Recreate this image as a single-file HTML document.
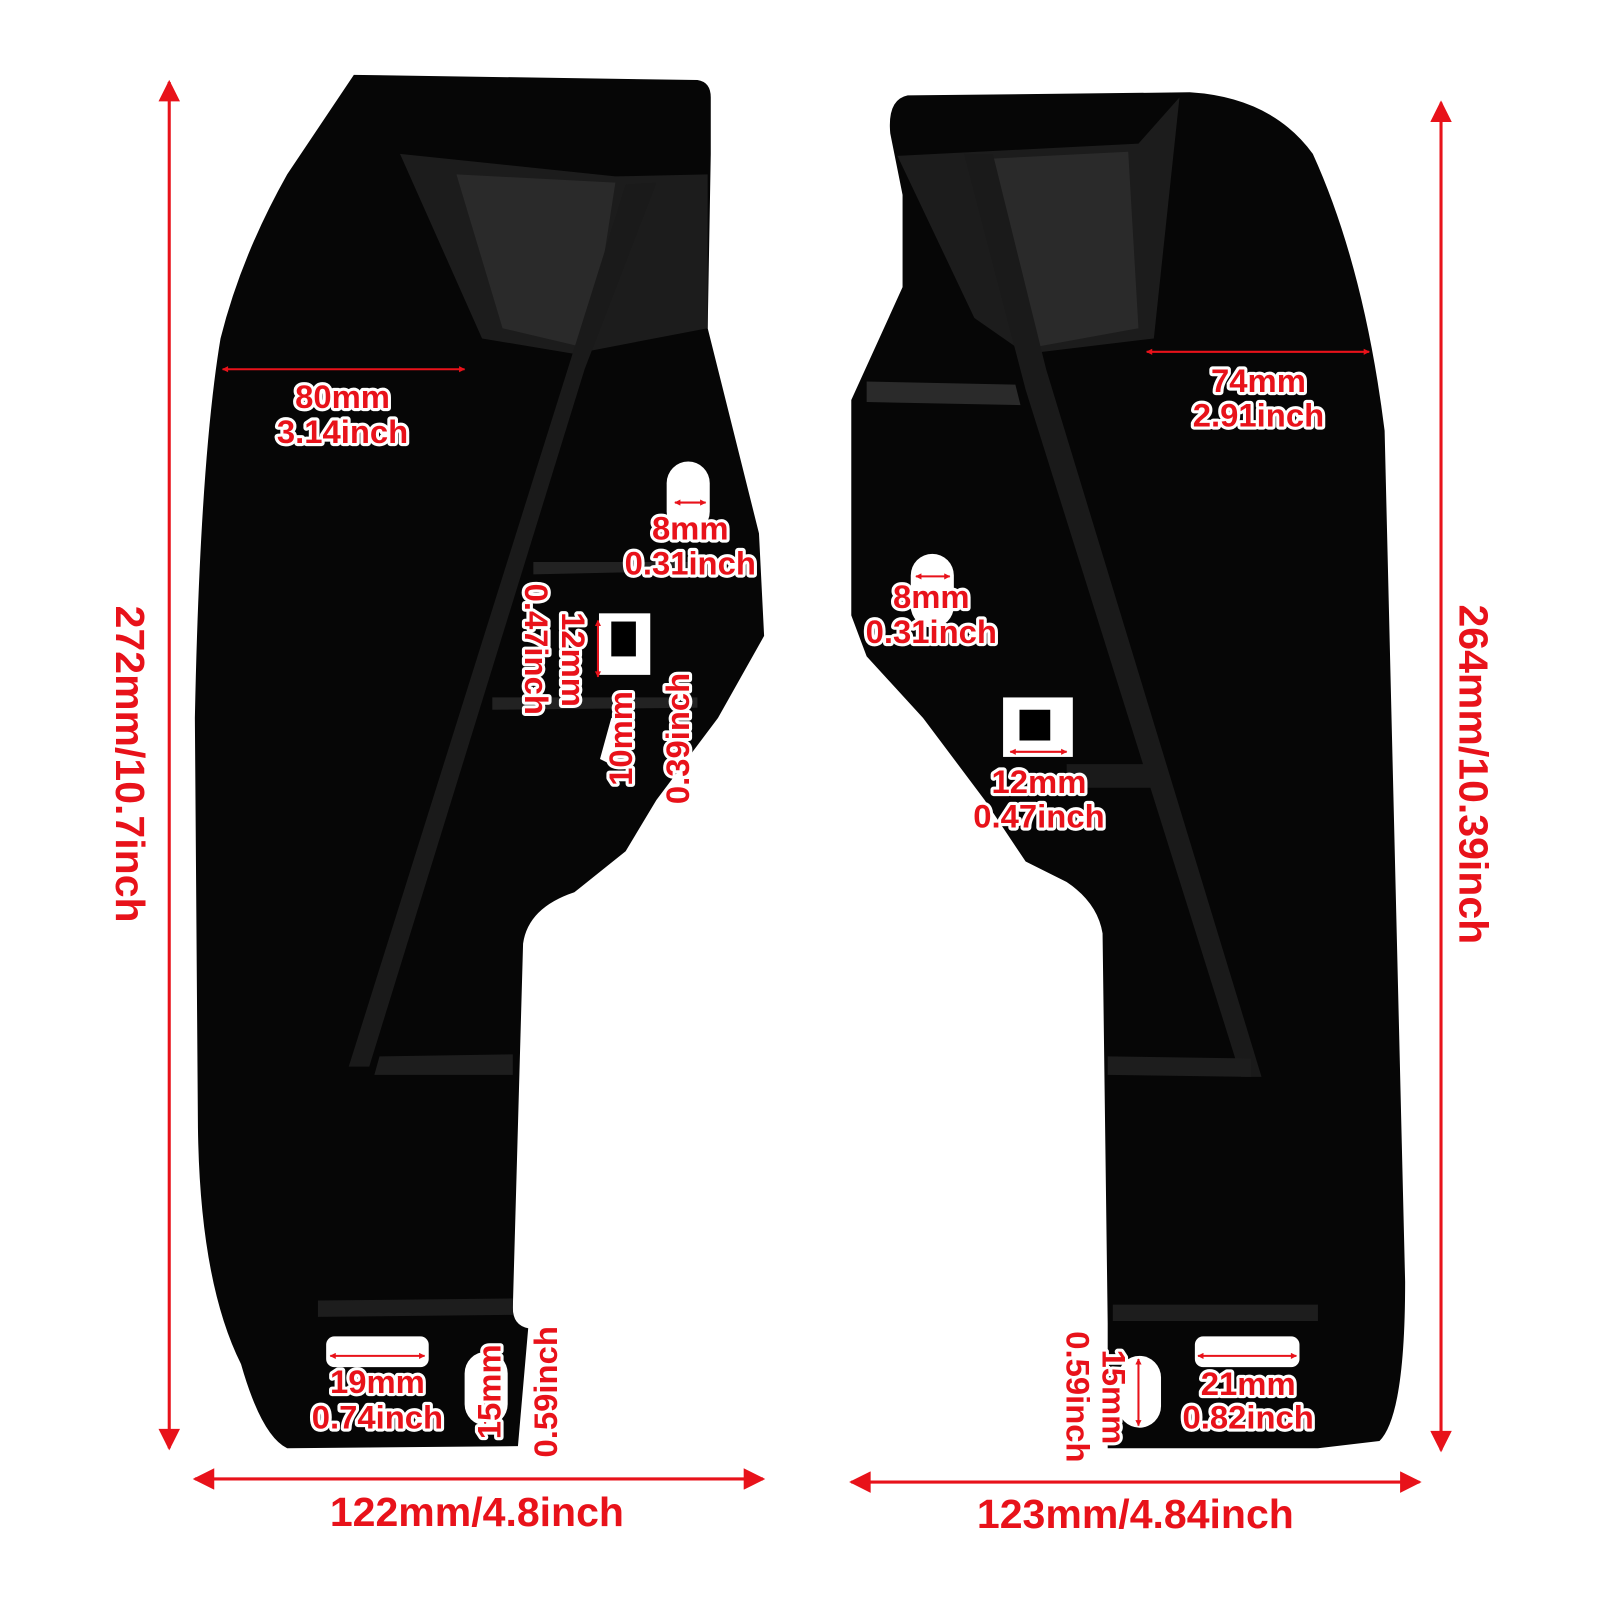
<!DOCTYPE html>
<html><head><meta charset="utf-8"><style>
html,body{margin:0;padding:0;background:#fff;width:1600px;height:1600px;overflow:hidden}
svg{display:block}
text{font-family:"Liberation Sans","DejaVu Sans",sans-serif;font-weight:bold;fill:#e8121a}
.o{stroke:#fff;stroke-width:6;paint-order:stroke;stroke-linejoin:round}
</style></head><body>
<svg width="1600" height="1600" viewBox="0 0 1560 1560" xmlns="http://www.w3.org/2000/svg">
<defs>
<marker id="a" viewBox="0 0 10 10" refX="9" refY="5" markerWidth="10" markerHeight="7" orient="auto-start-reverse"><path d="M0,0L10,5L0,10z" fill="#e8121a"/></marker>
<marker id="s" viewBox="0 0 10 10" refX="9" refY="5" markerWidth="3.5" markerHeight="3" orient="auto-start-reverse"><path d="M0,0L10,5L0,10z" fill="#e8121a"/></marker>
</defs>
<!-- left part -->
<path d="M345,73 L680,78 Q693,80 693,95 L693,150 L690,320 L715,420 L740,520 L745,620 L700,700 L640,780 L610,830 L560,870 Q515,885 510,920 L500,1275 Q500,1292 515,1295 L505,1410 L280,1412 Q255,1400 235,1330 Q195,1250 193,1100 L190,700 Q195,450 215,330 Q235,250 280,170 Z" fill="#060606"/>
<path d="M390,150 L600,172 L690,170 L690,320 L560,345 L470,330 Z" fill="#1c1c1c"/>
<path d="M445,170 L600,178 L575,340 L490,320 Z" fill="#2a2a2a"/>
<path d="M610,180 L640,178 L570,360 L360,1040 L340,1040 Z" fill="#1a1a1a"/>
<path d="M370,1030 L500,1028 L500,1048 L365,1048 Z" fill="#1d1d1d"/>
<path d="M310,1268 L500,1266 L500,1282 L310,1284 Z" fill="#1d1d1d"/>
<path d="M520,548 L700,548 L700,556 L520,560 Z" fill="#222"/>
<path d="M480,680 L680,680 L680,690 L480,692 Z" fill="#222"/>
<!-- holes left -->
<rect x="650" y="450" width="42" height="70" rx="21" fill="#fff"/>
<rect x="584" y="598" width="50" height="60" fill="#fff"/>
<rect x="596" y="606" width="24" height="34" fill="#000"/>
<path d="M585,740 L596,700 L606,700 L595,745 Z" fill="#fff"/>
<rect x="318" y="1303" width="100" height="30" rx="8" fill="#fff"/>
<rect x="453" y="1318" width="42" height="72" rx="21" fill="#fff"/>
<!-- right part -->
<path d="M885,93 L1160,90 Q1240,95 1280,150 Q1330,260 1350,420 L1370,1250 Q1370,1380 1345,1405 L1285,1412 L1080,1412 L1080,1290 L1075,910 Q1070,880 1040,860 L1000,840 L960,780 L900,700 L845,640 L830,600 L830,390 L880,280 L880,190 L868,130 Q865,97 885,93 Z" fill="#060606"/>
<path d="M875,152 L1110,140 L1150,95 L1125,330 L1000,345 L950,310 Z" fill="#1c1c1c"/>
<path d="M960,155 L1100,148 L1110,320 L1000,340 Z" fill="#2a2a2a"/>
<path d="M940,150 L968,150 L1020,360 L1230,1050 L1210,1050 L1000,380 Z" fill="#1a1a1a"/>
<path d="M845,372 L990,375 L995,395 L845,392 Z" fill="#2a2a2a"/>
<path d="M1080,1030 L1220,1032 L1220,1050 L1080,1048 Z" fill="#1d1d1d"/>
<path d="M1085,1272 L1285,1272 L1285,1288 L1085,1288 Z" fill="#1d1d1d"/>
<path d="M1040,745 L1135,745 L1135,768 L1040,768 Z" fill="#1a1a1a"/>
<!-- holes right -->
<rect x="888" y="540" width="42" height="72" rx="21" fill="#fff"/>
<rect x="978" y="680" width="68" height="58" fill="#fff"/>
<rect x="994" y="692" width="30" height="30" fill="#000"/>
<rect x="1165" y="1303" width="102" height="30" rx="8" fill="#fff"/>
<rect x="1090" y="1322" width="42" height="70" rx="21" fill="#fff"/>
<!-- big dimension arrows -->
<g stroke="#e8121a" stroke-width="3" fill="none">
<line x1="165" y1="80" x2="165" y2="1412" marker-start="url(#a)" marker-end="url(#a)"/>
<line x1="1405" y1="100" x2="1405" y2="1414" marker-start="url(#a)" marker-end="url(#a)"/>
<line x1="190" y1="1442" x2="744" y2="1442" marker-start="url(#a)" marker-end="url(#a)"/>
<line x1="830" y1="1445" x2="1384" y2="1445" marker-start="url(#a)" marker-end="url(#a)"/>
</g>
<g stroke="#e8121a" stroke-width="2" fill="none">
<line x1="217" y1="360" x2="453" y2="360" marker-start="url(#s)" marker-end="url(#s)"/>
<line x1="1118" y1="343" x2="1335" y2="343" marker-start="url(#s)" marker-end="url(#s)"/>
<line x1="658" y1="490" x2="688" y2="490" marker-start="url(#s)" marker-end="url(#s)"/>
<line x1="893" y1="562" x2="926" y2="562" marker-start="url(#s)" marker-end="url(#s)"/>
<line x1="583" y1="605" x2="583" y2="660" marker-start="url(#s)" marker-end="url(#s)"/>
<line x1="600" y1="702" x2="600" y2="740" marker-start="url(#s)" marker-end="url(#s)"/>
<line x1="985" y1="733" x2="1040" y2="733" marker-start="url(#s)" marker-end="url(#s)"/>
<line x1="322" y1="1322" x2="414" y2="1322" marker-start="url(#s)" marker-end="url(#s)"/>
<line x1="1168" y1="1322" x2="1264" y2="1322" marker-start="url(#s)" marker-end="url(#s)"/>
<line x1="473" y1="1323" x2="473" y2="1388" marker-start="url(#s)" marker-end="url(#s)"/>
<line x1="1110" y1="1325" x2="1110" y2="1390" marker-start="url(#s)" marker-end="url(#s)"/>
</g>
<!-- big labels -->
<text x="465" y="1488" font-size="40" text-anchor="middle" font-weight="normal">122mm/4.8inch</text>
<text x="1107" y="1490" font-size="40" text-anchor="middle" font-weight="normal">123mm/4.84inch</text>
<text transform="translate(113,745) rotate(90)" font-size="40" text-anchor="middle" font-weight="normal">272mm/10.7inch</text>
<text transform="translate(1423,755) rotate(90)" font-size="40" text-anchor="middle" font-weight="normal">264mm/10.39inch</text>
<!-- small labels -->
<g class="o" font-size="32" text-anchor="middle">
<text x="334" y="398">80mm</text><text x="334" y="432">3.14inch</text>
<text x="1227" y="382">74mm</text><text x="1227" y="416">2.91inch</text>
<text x="673" y="526">8mm</text><text x="673" y="560">0.31inch</text>
<text x="908" y="593">8mm</text><text x="908" y="627">0.31inch</text>
<text x="1013" y="773">12mm</text><text x="1013" y="807">0.47inch</text>
<text x="368" y="1358">19mm</text><text x="368" y="1393">0.74inch</text>
<text x="1217" y="1360">21mm</text><text x="1217" y="1393">0.82inch</text>
<text transform="translate(548,643) rotate(90)">12mm</text>
<text transform="translate(512,633) rotate(90)">0.47inch</text>
<text transform="translate(616,720) rotate(-90)">10mm</text>
<text transform="translate(672,720) rotate(-90)">0.39inch</text>
<text transform="translate(488,1357) rotate(-90)">15mm</text>
<text transform="translate(543,1357) rotate(-90)">0.59inch</text>
<text transform="translate(1075,1362) rotate(90)">15mm</text>
<text transform="translate(1040,1362) rotate(90)">0.59inch</text>
</g>
</svg>
</body></html>
